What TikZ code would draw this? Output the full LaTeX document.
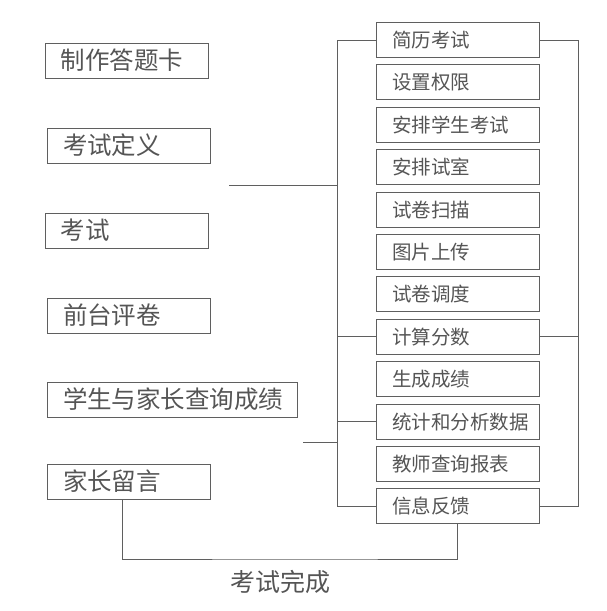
\documentclass[tikz,border=0pt]{standalone}
\usepackage{fontspec}
\setmainfont{Noto Sans CJK SC}
\definecolor{linec}{HTML}{5F5F5F}
\definecolor{txtc}{HTML}{555555}
\newcommand{\bxt}[2]{\makebox[#1pt][l]{\hspace*{16pt}#2}}
\begin{document}
\begin{tikzpicture}[x=1pt,y=-1pt,
  lbox/.style={draw=linec, line width=1pt, minimum height=35pt, inner sep=0pt, text=txtc, font=\fontsize{24.5}{25}\selectfont},
  rbox/.style={draw=linec, line width=1pt, minimum height=35pt, inner sep=0pt, text=txtc, font=\fontsize{19.5}{20}\selectfont},
  conn/.style={draw=linec, line width=1pt},
  lbl/.style={text=txtc, font=\fontsize{25}{25}\selectfont}]
\path[use as bounding box] (0,0) rectangle (607,611);
% left column
\node[lbox] (a1) at (126.5,60.5) {\bxt{163}{制作答题卡}};
\node[lbox] (a2) at (128.5,145.5) {\bxt{163}{考试定义}};
\node[lbox] (a3) at (126.5,230.5) {\bxt{163}{考试}};
\node[lbox] (a4) at (128.5,315.5) {\bxt{163}{前台评卷}};
\node[lbox] (a5) at (172,399.5) {\bxt{250}{学生与家长查询成绩}};
\node[lbox] (a6) at (128.5,481.5) {\bxt{163}{家长留言}};
% right column
\foreach \t [count=\i from 0] in {简历考试,设置权限,安排学生考试,安排试室,试卷扫描,图片上传,试卷调度,计算分数,生成成绩,统计和分析数据,教师查询报表,信息反馈}{
  \pgfmathtruncatemacro{\k}{\i+1}
  \node[rbox] (b\k) at (457.5,{40+42.4*\i}) {\bxt{163}{\t}};
}
% bracket coordinates
\coordinate (lb) at (337,0);
\coordinate (rb) at (578,0);
\coordinate (j1) at (229,185);
\coordinate (j2) at (303,442);
\coordinate (bj) at (300,559);
% left bracket
\draw[conn] (b1.west) -- (b1.west -| lb) -- (b12.west -| lb) -- (b12.west);
\draw[conn] (b8.west) -- (b8.west -| lb);
\draw[conn] (b10.west) -- (b10.west -| lb);
\draw[conn] (j1) -- (j1 -| lb);
\draw[conn] (j2) -- (j2 -| lb);
% right bracket
\draw[conn] (b1.east) -- (b1.east -| rb) -- (b12.east -| rb) -- (b12.east);
\draw[conn] (b8.east) -- (b8.east -| rb);
% bottom loop
\draw[conn] ([xshift=-6.5pt]a6.south) |- (bj) -| (b12.south);
\node[lbl] (done) at (280,582) {考试完成};
\end{tikzpicture}
\end{document}
